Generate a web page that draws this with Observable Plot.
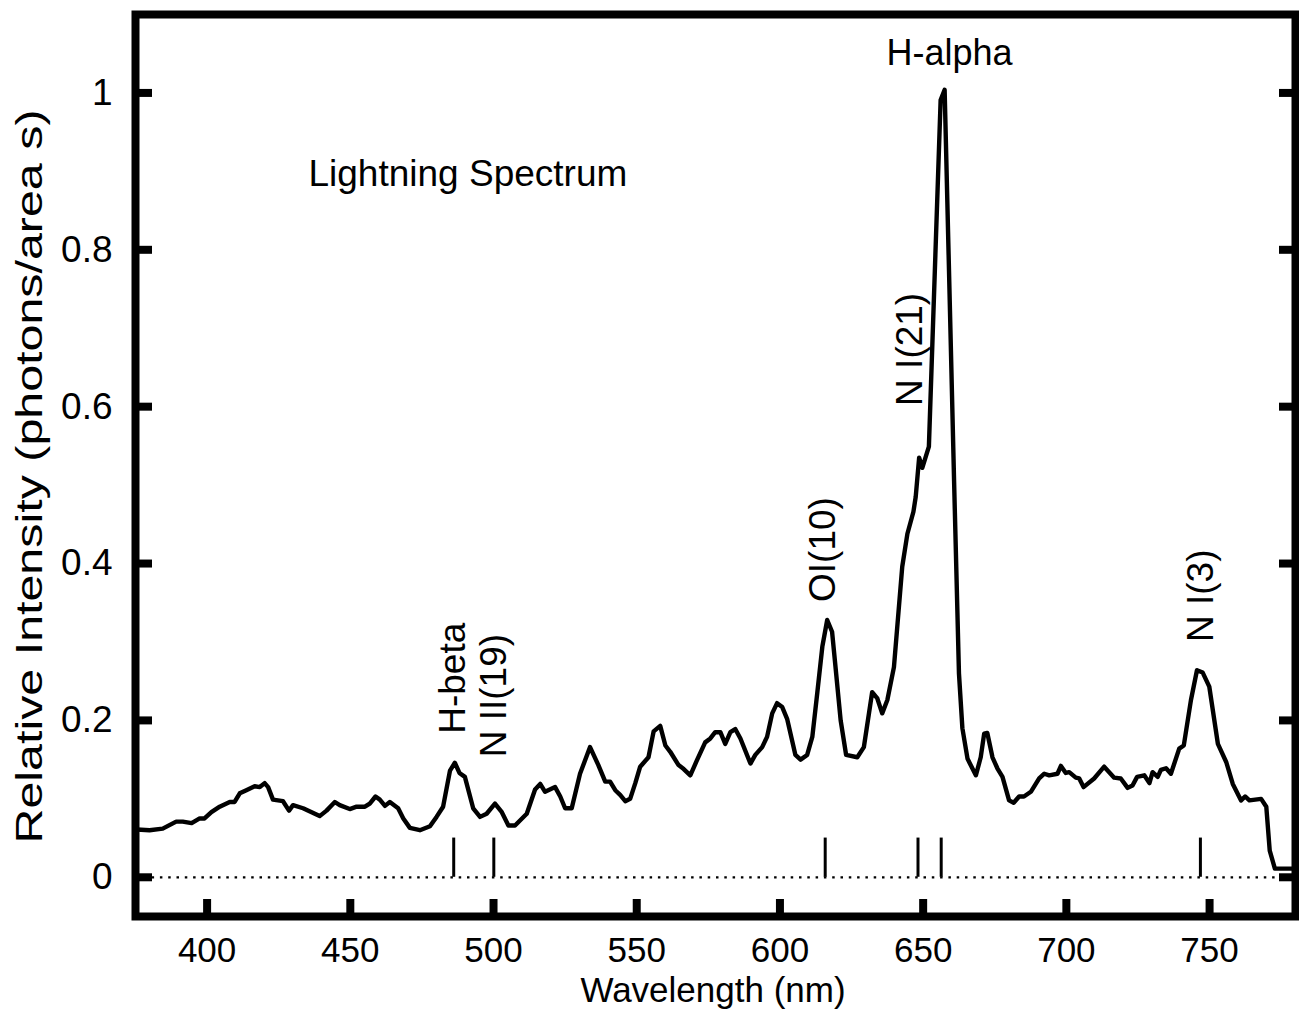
<!DOCTYPE html>
<html>
<head>
<meta charset="utf-8">
<script src="https://cdn.jsdelivr.net/npm/d3@7"></script>
<script src="https://cdn.jsdelivr.net/npm/@observablehq/plot@0.6"></script>
<style>
  html, body { margin: 0; padding: 0; background: #fff; }
</style>
</head>
<body>
<div id="chart"></div>
<script>
// Wavelength (nm) of each sampled point of the spectrum
const wavelength = [
  375.5, 379.9, 384.5, 389.2, 391.5, 394.6, 397.4, 399.1, 401.5, 404.4,
  407.9, 409.6, 411.4, 413.7, 416.6, 418.4, 420.1, 421.3, 423.0, 426.5,
  428.6, 430.0, 433.5, 439.3, 441.7, 444.6, 446.3, 449.8, 452.2, 455.1,
  456.8, 458.8, 460.3, 462.1, 463.8, 466.7, 468.5, 470.8, 474.3, 477.8,
  480.1, 482.4, 484.8, 486.5, 488.1, 490.0, 492.9, 495.3, 497.6, 500.5,
  502.9, 505.2, 507.5, 511.6, 514.5, 516.3, 518.0, 521.5, 523.3, 525.0,
  527.3, 530.2, 533.7, 536.6, 539.0, 540.7, 542.5, 544.2, 546.0, 547.7,
  549.5, 551.2, 554.1, 555.9, 558.2, 560.0, 561.7, 564.6, 566.4, 568.7,
  571.0, 573.9, 575.7, 577.4, 579.2, 580.9, 582.7, 584.4, 586.2, 589.7,
  591.4, 593.8, 595.5, 597.3, 599.0, 600.8, 602.5, 605.4, 607.2, 609.5,
  611.3, 613.0, 614.8, 616.5, 618.2, 619.4, 621.2, 623.1, 627.0, 629.3,
  632.2, 634.0, 635.7, 637.5, 639.8, 642.7, 644.5, 646.6, 647.4, 648.6,
  649.7, 652.0, 656.1, 657.5, 660.8, 662.5, 663.7, 665.5, 668.4, 670.1,
  671.3, 672.4, 674.2, 675.9, 677.7, 680.0, 681.6, 683.5, 685.2, 687.6,
  690.5, 692.3, 694.0, 696.9, 698.1, 699.8, 701.0, 703.3, 704.5, 706.0,
  709.7, 713.2, 716.7, 719.0, 721.4, 723.1, 724.7, 727.2, 729.0, 730.1,
  731.9, 733.0, 734.8, 736.5, 739.4, 741.0, 743.5, 745.6, 747.6, 749.9,
  752.9, 755.8, 758.1, 761.0, 762.4, 763.9, 768.0, 769.8, 771.0, 772.8,
  778.8
];

// Relative intensity at each wavelength
const intensity = [
  0.061, 0.060, 0.062, 0.071, 0.071, 0.069, 0.075, 0.075, 0.083, 0.090,
  0.096, 0.096, 0.107, 0.111, 0.116, 0.115, 0.120, 0.115, 0.099, 0.097,
  0.085, 0.092, 0.088, 0.078, 0.085, 0.096, 0.092, 0.087, 0.090, 0.090,
  0.094, 0.103, 0.099, 0.091, 0.096, 0.088, 0.075, 0.063, 0.060, 0.065,
  0.077, 0.090, 0.136, 0.146, 0.133, 0.128, 0.088, 0.077, 0.081, 0.094,
  0.083, 0.066, 0.066, 0.081, 0.112, 0.119, 0.109, 0.115, 0.103, 0.088,
  0.088, 0.132, 0.166, 0.143, 0.122, 0.122, 0.111, 0.105, 0.097, 0.100,
  0.120, 0.141, 0.153, 0.186, 0.193, 0.168, 0.160, 0.143, 0.138, 0.130,
  0.149, 0.172, 0.177, 0.185, 0.185, 0.170, 0.185, 0.189, 0.177, 0.145,
  0.156, 0.166, 0.179, 0.209, 0.222, 0.217, 0.202, 0.156, 0.150, 0.156,
  0.179, 0.234, 0.294, 0.328, 0.313, 0.268, 0.200, 0.156, 0.153, 0.166,
  0.236, 0.228, 0.209, 0.226, 0.268, 0.396, 0.438, 0.466, 0.485, 0.535,
  0.522, 0.549, 0.991, 1.004, 0.505, 0.260, 0.190, 0.151, 0.130, 0.153,
  0.183, 0.184, 0.153, 0.139, 0.128, 0.098, 0.095, 0.103, 0.103, 0.109,
  0.126, 0.132, 0.130, 0.132, 0.142, 0.133, 0.134, 0.127, 0.126, 0.115,
  0.126, 0.141, 0.127, 0.126, 0.114, 0.117, 0.128, 0.130, 0.120, 0.134,
  0.128, 0.137, 0.139, 0.132, 0.164, 0.168, 0.226, 0.264, 0.261, 0.243,
  0.170, 0.147, 0.119, 0.098, 0.103, 0.098, 0.100, 0.090, 0.034, 0.011,
  0.011
];

// Axis ticks
const xTicks = [400, 450, 500, 550, 600, 650, 700, 750];
const yTicks = [0, 0.2, 0.4, 0.6, 0.8, 1];

// Emission-line identification marks (nm) and their height
const markerWavelengths = [486.1, 500.1, 615.8, 648.2, 656.3, 746.8];
const markerHeight = 0.05;

// Rotated emission-line labels (anchored at their lower end)
const lineLabels = ["H-beta", "N II(19)", "OI(10)", "N I(21)", "N I(3)"];
const lineLabelX = [486.0, 500.2, 615.2, 645.6, 746.9];
const lineLabelY = [0.183, 0.153, 0.351, 0.601, 0.300];

// Horizontal annotations
const titleText = ["Lightning Spectrum"];
const titleX = [435.4];
const titleY = [0.881];
const peakText = ["H-alpha"];
const peakX = [659.2];
const peakY = [1.036];

const xLabel = "Wavelength (nm)";
const yLabel = "Relative Intensity (photons/area s)";

const data = wavelength.map((w, i) => ({w, v: intensity[i]}));

const plot = Plot.plot({
  width: 1299,
  height: 1009,
  marginLeft: 135,
  marginRight: 4,
  marginTop: 14,
  marginBottom: 93,
  x: {domain: [375, 780], label: null},
  y: {domain: [-0.05, 1.1], label: null},
  style: {
    fontFamily: "'Liberation Sans', Arial, Helvetica, sans-serif",
    fontSize: "36px",
    color: "black",
    background: "white",
    overflow: "visible"
  },
  marks: [
    Plot.ruleY([0], {stroke: "black", strokeWidth: 2.3, strokeDasharray: "2.5,5.8"}),
    Plot.ruleX(markerWavelengths, {x: d => d, y1: 0, y2: markerHeight, stroke: "black", strokeWidth: 3}),
    Plot.line(data, {x: "w", y: "v", stroke: "black", strokeWidth: 4.4}),
    Plot.axisX(xTicks, {anchor: "bottom", tickSize: -17, strokeWidth: 8, tickFormat: () => "", label: null}),
    Plot.axisX(xTicks, {anchor: "bottom", tickSize: 0, tickPadding: 21, label: null, fontSize: 35, tickFormat: d => `${d}`}),
    Plot.axisY(yTicks, {anchor: "left", tickSize: -17, strokeWidth: 8, tickFormat: () => "", label: null}),
    Plot.axisY(yTicks, {anchor: "left", tickSize: 0, tickPadding: 23, label: null, fontSize: 37, tickFormat: d => `${d}`}),
    Plot.axisY(yTicks, {anchor: "right", tickSize: -17, strokeWidth: 8, tickFormat: () => "", label: null}),
    Plot.frame({stroke: "black", strokeWidth: 8}),
    Plot.text(lineLabels, {
      x: (d, i) => lineLabelX[i], y: (d, i) => lineLabelY[i], text: d => d,
      rotate: -90, textAnchor: "start", fontSize: 37, fill: "black"
    }),
    Plot.text(titleText, {
      x: (d, i) => titleX[i], y: (d, i) => titleY[i], text: d => d,
      textAnchor: "start", lineAnchor: "bottom", fontSize: 37, fill: "black"
    }),
    Plot.text(peakText, {
      x: (d, i) => peakX[i], y: (d, i) => peakY[i], text: d => d,
      textAnchor: "middle", lineAnchor: "bottom", fontSize: 36, fill: "black"
    }),
    Plot.text([xLabel], {frameAnchor: "bottom", dy: 85.5, dx: -2.5, lineAnchor: "bottom", fontSize: 35, fill: "black"}),
    Plot.text([yLabel], {frameAnchor: "bottom-left", dx: -94, dy: -73, rotate: -90, textAnchor: "start", fontSize: 36, fill: "black"})
  ]
});

document.getElementById("chart").appendChild(plot);

// stretch the y-axis title along its length as in the original figure
d3.select(plot).selectAll("text")
  .filter(function () { return this.textContent === yLabel; })
  .attr("textLength", 734)
  .attr("lengthAdjust", "spacingAndGlyphs");
</script>
</body>
</html>
